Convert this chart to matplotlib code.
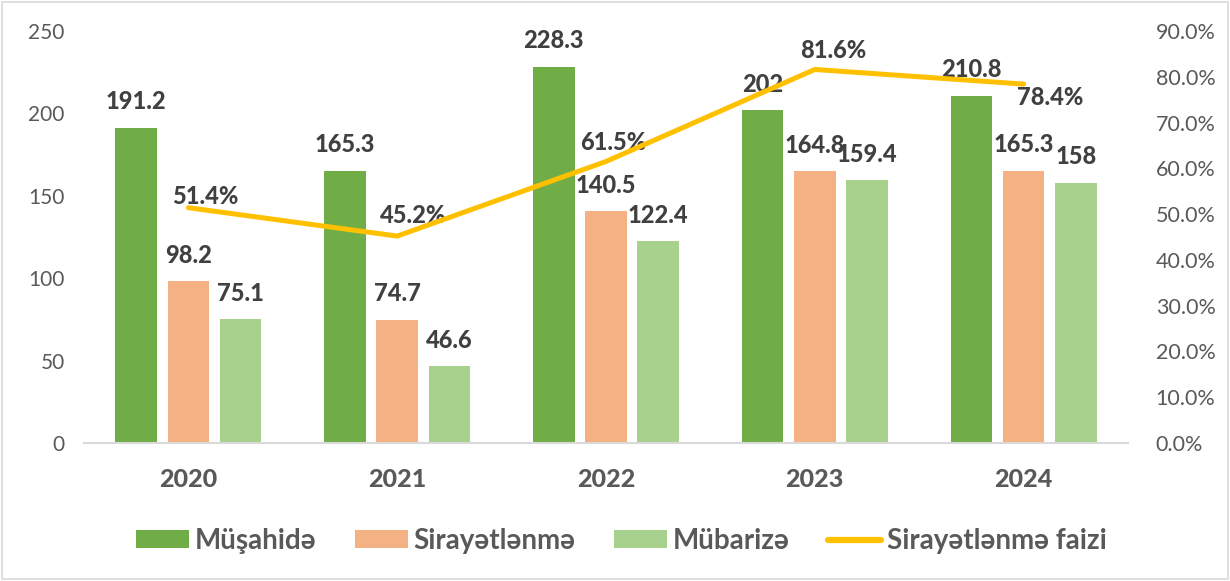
import matplotlib
matplotlib.use("Agg")
import matplotlib.pyplot as plt
import numpy as np
from matplotlib.ticker import FuncFormatter, MultipleLocator
from matplotlib.patches import Rectangle

years = ["2020", "2021", "2022", "2023", "2024"]
musahide = [191.2, 165.3, 228.3, 202, 210.8]
sirayetlenme = [98.2, 74.7, 140.5, 164.8, 165.3]
mubarize = [75.1, 46.6, 122.4, 159.4, 158]
faiz = [0.514, 0.452, 0.615, 0.816, 0.784]
faiz_labels = ["51.4%", "45.2%", "61.5%", "81.6%", "78.4%"]
bar_labels_m = ["191.2", "165.3", "228.3", "202", "210.8"]
bar_labels_s = ["98.2", "74.7", "140.5", "164.8", "165.3"]
bar_labels_b = ["75.1", "46.6", "122.4", "159.4", "158"]
series_names = ["Müşahidə", "Sirayətlənmə", "Mübarizə", "Sirayətlənmə faizi"]

# label offsets for line labels (pixels)
line_offsets = [(17, 11), (16, 21), (7, 19), (18, 19), (27, -13)]

c_green = "#70AD47"
c_orange = "#F4B183"
c_lgreen = "#A9D18E"
c_line = "#FFC000"
c_lab = "#404040"
c_tick = "#595959"

plt.rcParams["font.family"] = ["Lato", "DejaVu Sans"]
LBL_W = 900

fig = plt.figure(figsize=(12.3, 5.81), dpi=100)
ax = fig.add_axes([84 / 1230, 1 - 443 / 581, (1128 - 84) / 1230, (443 - 31) / 581])
ax2 = ax.twinx()

x = np.arange(len(years))
w = 0.2
off = 0.25
b1 = ax.bar(x - off, musahide, w, color=c_green, label=series_names[0], zorder=2)
b2 = ax.bar(x, sirayetlenme, w, color=c_orange, label=series_names[1], zorder=2)
b3 = ax.bar(x + off, mubarize, w, color=c_lgreen, label=series_names[2], zorder=2)

for bars, labs in [(b1, bar_labels_m), (b2, bar_labels_s), (b3, bar_labels_b)]:
    for rect, lab in zip(bars, labs):
        ax.annotate(lab, (rect.get_x() + rect.get_width() / 2, rect.get_height()),
                    xytext=(0, 26), textcoords="offset pixels", ha="center", va="center",
                    fontsize=17, fontweight=LBL_W, color=c_lab, zorder=5)

ln, = ax2.plot(x, faiz, color=c_line, lw=3.6, solid_capstyle="round", label=series_names[3], zorder=3)
for xi, v, lab, (dx, dy) in zip(x, faiz, faiz_labels, line_offsets):
    ax2.annotate(lab, (xi, v), xytext=(dx, dy), textcoords="offset pixels", ha="center", va="center",
                 fontsize=17, fontweight=LBL_W, color=c_lab, zorder=2)

ax.set_xlim(-0.5, len(years) - 0.5)
ax.set_ylim(0, 250)
ax.yaxis.set_major_locator(MultipleLocator(50))
ax2.set_ylim(0, 0.9)
ax2.yaxis.set_major_locator(MultipleLocator(0.1))
ax2.yaxis.set_major_formatter(FuncFormatter(lambda v, p: f"{v*100:.1f}%"))

ax.set_xticks(x)
ax.set_xticklabels(years, fontsize=18, fontweight=LBL_W, color=c_tick)
ax.tick_params(axis="x", length=0, pad=18)
ax.tick_params(axis="y", length=0, pad=14, labelsize=15, labelcolor=c_tick)
ax2.tick_params(axis="y", length=0, pad=20, labelsize=15.5, labelcolor=c_tick)

for a in (ax, ax2):
    for s in ["top", "left", "right", "bottom"]:
        a.spines[s].set_visible(False)
ax.spines["bottom"].set_visible(True)
ax.spines["bottom"].set_color("#D9D9D9")
ax.spines["bottom"].set_linewidth(1.5)

handles = [b1, b2, b3, ln]
leg = fig.legend(handles, series_names, loc="center", bbox_to_anchor=(0.505, 1 - 541 / 581), ncol=4,
                 frameon=False, fontsize=20, handlelength=1.9, handleheight=0.6,
                 handletextpad=0.2, columnspacing=1.4)
for t in leg.get_texts():
    t.set_color(c_tick)
    t.set_fontweight("bold")
for l in leg.get_lines():
    l.set_linewidth(4.5)

fig.patches.append(Rectangle((0.002, 0.003), 0.996, 0.994, transform=fig.transFigure,
                             fill=False, edgecolor="#D9D9D9", lw=1.2))

fig.savefig("out.png", dpi=100)
